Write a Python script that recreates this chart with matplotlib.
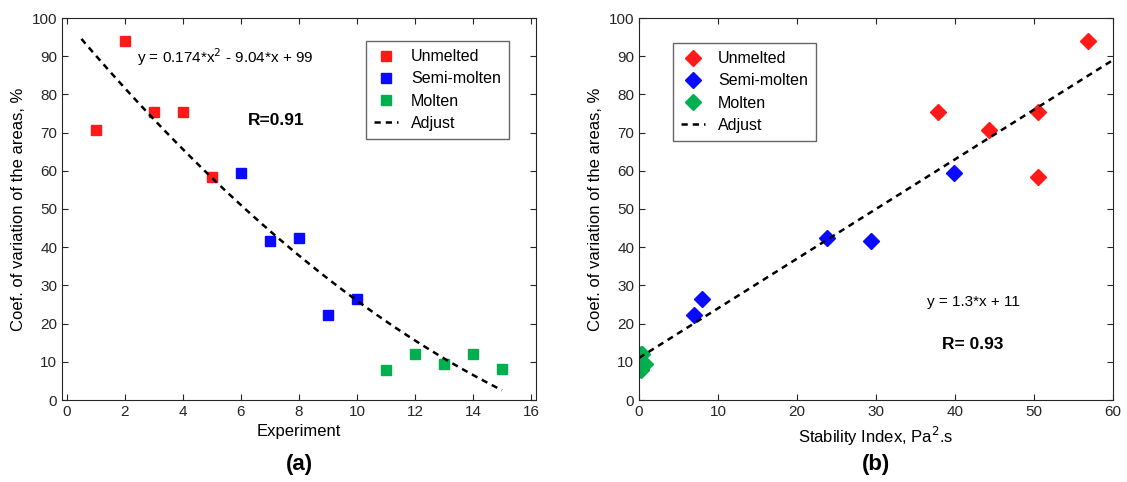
import matplotlib.pyplot as plt
import numpy as np

# colores
red = "#ff1a1a"
blue = "#0a0aff"
green = "#00b04f"

# (a) coef. of variation vs experiment
exp_unmelted = [1, 2, 3, 4, 5]
cv_unmelted = [70.7, 94.0, 75.5, 75.3, 58.3]
exp_semi = [6, 7, 8, 9, 10]
cv_semi = [59.3, 41.6, 42.3, 22.3, 26.4]
exp_molten = [11, 12, 13, 14, 15]
cv_molten = [7.8, 12.0, 9.4, 12.1, 8.1]
fit_a = [0.174, -9.04, 99]      # y = 0.174*x^2 - 9.04*x + 99
fit_a_range = [0.5, 15]

# (b) coef. of variation vs stability index
si_unmelted = [44.3, 56.8, 50.5, 37.8, 50.5]
si_semi = [39.9, 29.4, 23.8, 7.0, 8.0]
si_molten = [0.2, 0.4, 0.7, 0.3, 0.3]
fit_b = [1.3, 11]               # y = 1.3*x + 11
fit_b_range = [0, 60]

plt.rcParams['font.family'] = ['Liberation Sans', 'DejaVu Sans']

fig = plt.figure(figsize=(11.27, 4.82), dpi=100)
ax1 = fig.add_axes([62/1127, 82/482, 474/1127, 382/482])
ax2 = fig.add_axes([639/1127, 82/482, 474/1127, 382/482])

# panel (a)
ax1.plot(exp_unmelted, cv_unmelted, 's', color=red, ms=7, label='Unmelted')
ax1.plot(exp_semi, cv_semi, 's', color=blue, ms=7, label='Semi-molten')
ax1.plot(exp_molten, cv_molten, 's', color=green, ms=7, label='Molten')
xa = np.linspace(fit_a_range[0], fit_a_range[1], 100)
ax1.plot(xa, np.polyval(fit_a, xa), '--', color='black', lw=1.8, dashes=(2.5, 2), label='Adjust')
ax1.text(2.4, 89.7, 'y = 0.174*x$^2$ - 9.04*x + 99', fontsize=11, va='center')
ax1.text(7.2, 73.2, 'R=0.91', fontsize=12.5, fontweight='bold', ha='center', va='center')
ax1.set_xlim(-0.17, 16.17)
ax1.set_ylim(0, 100)
ax1.set_xticks(range(0, 17, 2))
ax1.set_yticks(range(0, 101, 10))
ax1.set_xlabel('Experiment', fontsize=12)
ax1.set_ylabel('Coef. of variation of the areas, %', fontsize=12)
ax1.legend(loc='upper right', bbox_to_anchor=(0.96, 0.96), fontsize=11.5, frameon=True,
           fancybox=False, edgecolor='#404040', handlelength=1.5, borderpad=0.5,
           labelspacing=0.45)
ax1.text(0.5, -0.17, '(a)', transform=ax1.transAxes, ha='center', va='center',
         fontsize=16, fontweight='bold')

# panel (b)
ax2.plot(si_unmelted, cv_unmelted, 'D', color=red, ms=8, label='Unmelted')
ax2.plot(si_semi, cv_semi, 'D', color=blue, ms=8, label='Semi-molten')
ax2.plot(si_molten, cv_molten, 'D', color=green, ms=8, label='Molten')
xb = np.linspace(fit_b_range[0], fit_b_range[1], 50)
ax2.plot(xb, np.polyval(fit_b, xb), '--', color='black', lw=1.8, dashes=(2.5, 2), label='Adjust')
ax2.text(36.5, 25.6, 'y = 1.3*x + 11', fontsize=11, va='center')
ax2.text(38.4, 14.4, 'R= 0.93', fontsize=12.5, fontweight='bold', va='center')
ax2.set_xlim(0, 60)
ax2.set_ylim(0, 100)
ax2.set_xticks(range(0, 61, 10))
ax2.set_yticks(range(0, 101, 10))
ax2.set_xlabel('Stability Index, Pa$^2$.s', fontsize=12)
ax2.set_ylabel('Coef. of variation of the areas, %', fontsize=12)
ax2.legend(loc='upper left', bbox_to_anchor=(0.055, 0.955), fontsize=11.5, frameon=True,
           fancybox=False, edgecolor='#404040', handlelength=1.5, borderpad=0.5,
           labelspacing=0.45)
ax2.text(0.5, -0.17, '(b)', transform=ax2.transAxes, ha='center', va='center',
         fontsize=16, fontweight='bold')

for ax in (ax1, ax2):
    ax.tick_params(direction='in', top=True, right=True, labelsize=11, colors='#262626',
                   length=4.5)
    for s in ax.spines.values():
        s.set_color('#262626')
        s.set_linewidth(0.8)

fig.savefig('out.png', dpi=100)
